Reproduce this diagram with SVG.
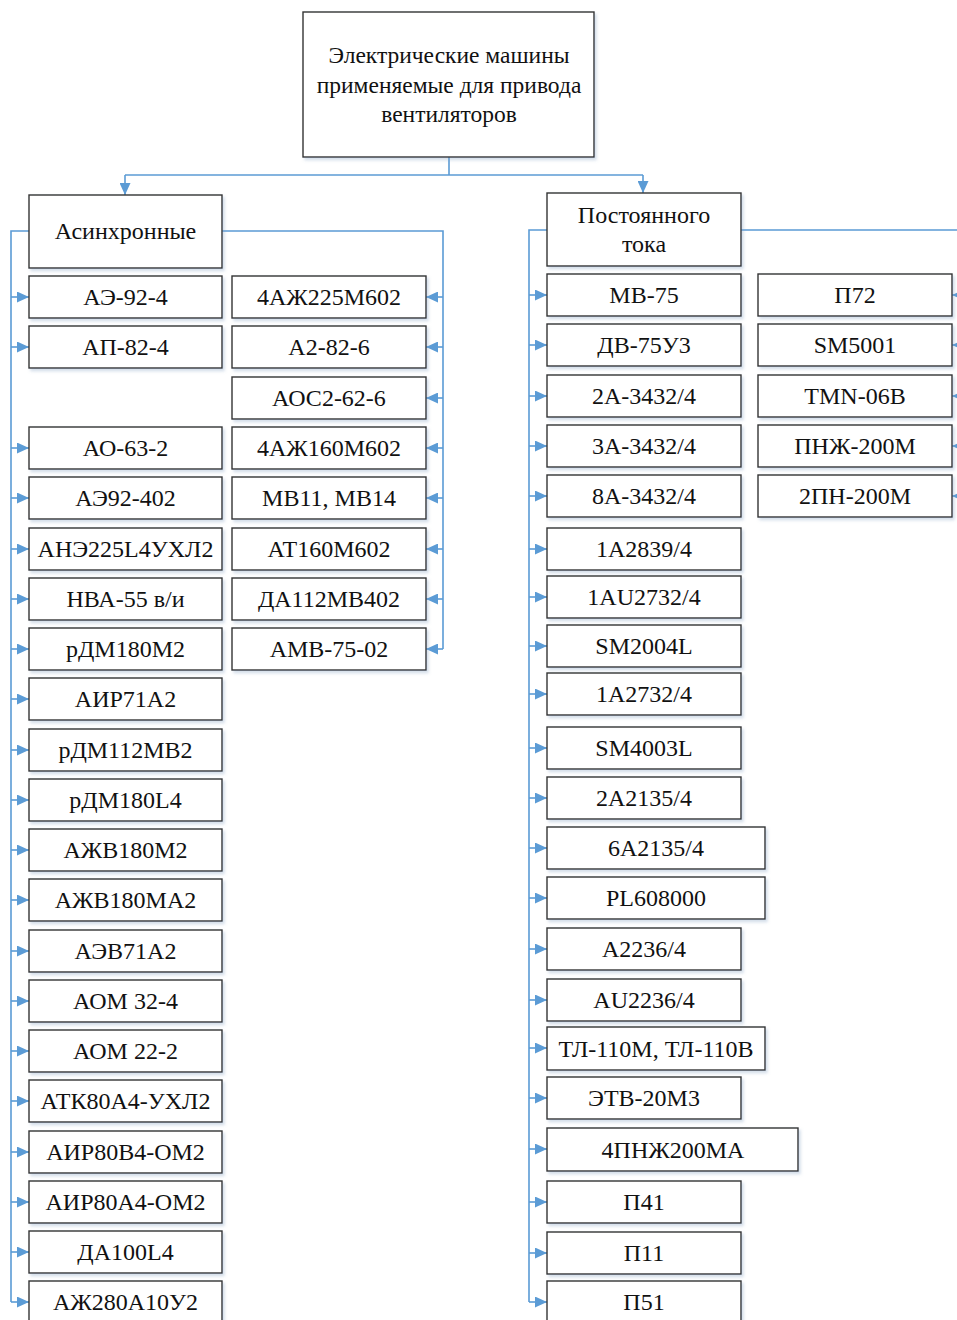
<svg xmlns="http://www.w3.org/2000/svg" width="957" height="1320" viewBox="0 0 957 1320">
<defs>
<style>
.b{fill:#fff;stroke:#333;stroke-width:1.4;filter:url(#sh)}
.t{font-family:"Liberation Serif","Times New Roman",serif;font-size:24px;fill:#111;text-anchor:middle}
.c{fill:none;stroke:#5B9BD5;stroke-width:1.6}
</style>
<filter id="sh" x="-10%" y="-10%" width="120%" height="130%">
<feDropShadow dx="2" dy="2.5" stdDeviation="1.6" flood-color="#7f9cc0" flood-opacity="0.35"/>
</filter>
<marker id="ar" markerWidth="12" markerHeight="11" refX="12" refY="5.5" orient="auto" markerUnits="userSpaceOnUse">
<path d="M0,0 L12,5.5 L0,11 z" fill="#5B9BD5"/>
</marker>
</defs>
<rect width="957" height="1320" fill="#fff"/>

<g id="connectors">
<path class="c" d="M449,157 V175"/>
<path class="c" d="M125,175 H643"/>
<path class="c" d="M125,175 V195" marker-end="url(#ar)"/>
<path class="c" d="M643,175 V193" marker-end="url(#ar)"/>
<path class="c" d="M29,231 H11 V1302"/>
<path class="c" d="M11,297 H29" marker-end="url(#ar)"/>
<path class="c" d="M11,347 H29" marker-end="url(#ar)"/>
<path class="c" d="M11,448 H29" marker-end="url(#ar)"/>
<path class="c" d="M11,498 H29" marker-end="url(#ar)"/>
<path class="c" d="M11,549 H29" marker-end="url(#ar)"/>
<path class="c" d="M11,599 H29" marker-end="url(#ar)"/>
<path class="c" d="M11,649 H29" marker-end="url(#ar)"/>
<path class="c" d="M11,699 H29" marker-end="url(#ar)"/>
<path class="c" d="M11,750 H29" marker-end="url(#ar)"/>
<path class="c" d="M11,800 H29" marker-end="url(#ar)"/>
<path class="c" d="M11,850 H29" marker-end="url(#ar)"/>
<path class="c" d="M11,900 H29" marker-end="url(#ar)"/>
<path class="c" d="M11,951 H29" marker-end="url(#ar)"/>
<path class="c" d="M11,1001 H29" marker-end="url(#ar)"/>
<path class="c" d="M11,1051 H29" marker-end="url(#ar)"/>
<path class="c" d="M11,1101 H29" marker-end="url(#ar)"/>
<path class="c" d="M11,1152 H29" marker-end="url(#ar)"/>
<path class="c" d="M11,1202 H29" marker-end="url(#ar)"/>
<path class="c" d="M11,1252 H29" marker-end="url(#ar)"/>
<path class="c" d="M11,1302 H29" marker-end="url(#ar)"/>
<path class="c" d="M222,231 H443 V649"/>
<path class="c" d="M443,297 H426" marker-end="url(#ar)"/>
<path class="c" d="M443,347 H426" marker-end="url(#ar)"/>
<path class="c" d="M443,398 H426" marker-end="url(#ar)"/>
<path class="c" d="M443,448 H426" marker-end="url(#ar)"/>
<path class="c" d="M443,498 H426" marker-end="url(#ar)"/>
<path class="c" d="M443,549 H426" marker-end="url(#ar)"/>
<path class="c" d="M443,599 H426" marker-end="url(#ar)"/>
<path class="c" d="M443,649 H426" marker-end="url(#ar)"/>
<path class="c" d="M547,230 H529 V1302"/>
<path class="c" d="M529,295 H547" marker-end="url(#ar)"/>
<path class="c" d="M529,345 H547" marker-end="url(#ar)"/>
<path class="c" d="M529,396 H547" marker-end="url(#ar)"/>
<path class="c" d="M529,446 H547" marker-end="url(#ar)"/>
<path class="c" d="M529,496 H547" marker-end="url(#ar)"/>
<path class="c" d="M529,549 H547" marker-end="url(#ar)"/>
<path class="c" d="M529,597 H547" marker-end="url(#ar)"/>
<path class="c" d="M529,646 H547" marker-end="url(#ar)"/>
<path class="c" d="M529,694 H547" marker-end="url(#ar)"/>
<path class="c" d="M529,748 H547" marker-end="url(#ar)"/>
<path class="c" d="M529,798 H547" marker-end="url(#ar)"/>
<path class="c" d="M529,848 H547" marker-end="url(#ar)"/>
<path class="c" d="M529,898 H547" marker-end="url(#ar)"/>
<path class="c" d="M529,949 H547" marker-end="url(#ar)"/>
<path class="c" d="M529,1000 H547" marker-end="url(#ar)"/>
<path class="c" d="M529,1048 H547" marker-end="url(#ar)"/>
<path class="c" d="M529,1098 H547" marker-end="url(#ar)"/>
<path class="c" d="M529,1149 H547" marker-end="url(#ar)"/>
<path class="c" d="M529,1202 H547" marker-end="url(#ar)"/>
<path class="c" d="M529,1253 H547" marker-end="url(#ar)"/>
<path class="c" d="M529,1302 H547" marker-end="url(#ar)"/>
<path class="c" d="M741,230 H970 V496"/>
<path class="c" d="M970,295 H952" marker-end="url(#ar)"/>
<path class="c" d="M970,345 H952" marker-end="url(#ar)"/>
<path class="c" d="M970,396 H952" marker-end="url(#ar)"/>
<path class="c" d="M970,446 H952" marker-end="url(#ar)"/>
<path class="c" d="M970,496 H952" marker-end="url(#ar)"/>
</g>

<g id="root"><rect class="b" x="303" y="12" width="291" height="145"/>
<text class="t" style="font-size:23.5px" x="449" y="63">Электрические машины</text>
<text class="t" style="font-size:23.5px" x="449" y="93">применяемые для привода</text>
<text class="t" style="font-size:23.5px" x="449" y="122">вентиляторов</text></g>

<g id="async"><rect class="b" x="29" y="195" width="193" height="73"/><text class="t" x="125.5" y="239">Асинхронные</text></g>
<g id="dc"><rect class="b" x="547" y="193" width="194" height="73"/><text class="t" x="644" y="223">Постоянного</text><text class="t" x="644" y="252">тока</text></g>

<g id="a1"><rect class="b" x="29" y="276" width="193" height="42"/><text class="t" x="125.5" y="305">АЭ-92-4</text></g>
<g id="a2"><rect class="b" x="29" y="326" width="193" height="42"/><text class="t" x="125.5" y="355">АП-82-4</text></g>
<g id="a3"><rect class="b" x="29" y="427" width="193" height="42"/><text class="t" x="125.5" y="456">АО-63-2</text></g>
<g id="a4"><rect class="b" x="29" y="477" width="193" height="42"/><text class="t" x="125.5" y="506">АЭ92-402</text></g>
<g id="a5"><rect class="b" x="29" y="528" width="193" height="42"/><text class="t" x="125.5" y="557">АНЭ225L4УХЛ2</text></g>
<g id="a6"><rect class="b" x="29" y="578" width="193" height="42"/><text class="t" x="125.5" y="607">НВА-55 в/и</text></g>
<g id="a7"><rect class="b" x="29" y="628" width="193" height="42"/><text class="t" x="125.5" y="657">рДМ180М2</text></g>
<g id="a8"><rect class="b" x="29" y="678" width="193" height="42"/><text class="t" x="125.5" y="707">АИР71А2</text></g>
<g id="a9"><rect class="b" x="29" y="729" width="193" height="42"/><text class="t" x="125.5" y="758">рДМ112МВ2</text></g>
<g id="a10"><rect class="b" x="29" y="779" width="193" height="42"/><text class="t" x="125.5" y="808">рДМ180L4</text></g>
<g id="a11"><rect class="b" x="29" y="829" width="193" height="42"/><text class="t" x="125.5" y="858">АЖВ180М2</text></g>
<g id="a12"><rect class="b" x="29" y="879" width="193" height="42"/><text class="t" x="125.5" y="908">АЖВ180МА2</text></g>
<g id="a13"><rect class="b" x="29" y="930" width="193" height="42"/><text class="t" x="125.5" y="959">АЭВ71А2</text></g>
<g id="a14"><rect class="b" x="29" y="980" width="193" height="42"/><text class="t" x="125.5" y="1009">АОМ 32-4</text></g>
<g id="a15"><rect class="b" x="29" y="1030" width="193" height="42"/><text class="t" x="125.5" y="1059">АОМ 22-2</text></g>
<g id="a16"><rect class="b" x="29" y="1080" width="193" height="42"/><text class="t" x="125.5" y="1109">АТК80А4-УХЛ2</text></g>
<g id="a17"><rect class="b" x="29" y="1131" width="193" height="42"/><text class="t" x="125.5" y="1160">АИР80В4-ОМ2</text></g>
<g id="a18"><rect class="b" x="29" y="1181" width="193" height="42"/><text class="t" x="125.5" y="1210">АИР80А4-ОМ2</text></g>
<g id="a19"><rect class="b" x="29" y="1231" width="193" height="42"/><text class="t" x="125.5" y="1260">ДА100L4</text></g>
<g id="a20"><rect class="b" x="29" y="1281" width="193" height="42"/><text class="t" x="125.5" y="1310">АЖ280А10У2</text></g>

<g id="b1"><rect class="b" x="232" y="276" width="194" height="42"/><text class="t" x="329" y="305">4АЖ225М602</text></g>
<g id="b2"><rect class="b" x="232" y="326" width="194" height="42"/><text class="t" x="329" y="355">А2-82-6</text></g>
<g id="b3"><rect class="b" x="232" y="377" width="194" height="42"/><text class="t" x="329" y="406">АОС2-62-6</text></g>
<g id="b4"><rect class="b" x="232" y="427" width="194" height="42"/><text class="t" x="329" y="456">4АЖ160М602</text></g>
<g id="b5"><rect class="b" x="232" y="477" width="194" height="42"/><text class="t" x="329" y="506">МВ11, МВ14</text></g>
<g id="b6"><rect class="b" x="232" y="528" width="194" height="42"/><text class="t" x="329" y="557">АТ160М602</text></g>
<g id="b7"><rect class="b" x="232" y="578" width="194" height="42"/><text class="t" x="329" y="607">ДА112МВ402</text></g>
<g id="b8"><rect class="b" x="232" y="628" width="194" height="42"/><text class="t" x="329" y="657">АМВ-75-02</text></g>

<g id="d1"><rect class="b" x="547" y="274" width="194" height="42"/><text class="t" x="644" y="303">МВ-75</text></g>
<g id="d2"><rect class="b" x="547" y="324" width="194" height="42"/><text class="t" x="644" y="353">ДВ-75У3</text></g>
<g id="d3"><rect class="b" x="547" y="375" width="194" height="42"/><text class="t" x="644" y="404">2А-3432/4</text></g>
<g id="d4"><rect class="b" x="547" y="425" width="194" height="42"/><text class="t" x="644" y="454">3А-3432/4</text></g>
<g id="d5"><rect class="b" x="547" y="475" width="194" height="42"/><text class="t" x="644" y="504">8А-3432/4</text></g>
<g id="d6"><rect class="b" x="547" y="528" width="194" height="42"/><text class="t" x="644" y="557">1А2839/4</text></g>
<g id="d7"><rect class="b" x="547" y="576" width="194" height="42"/><text class="t" x="644" y="605">1AU2732/4</text></g>
<g id="d8"><rect class="b" x="547" y="625" width="194" height="42"/><text class="t" x="644" y="654">SM2004L</text></g>
<g id="d9"><rect class="b" x="547" y="673" width="194" height="42"/><text class="t" x="644" y="702">1А2732/4</text></g>
<g id="d10"><rect class="b" x="547" y="727" width="194" height="42"/><text class="t" x="644" y="756">SM4003L</text></g>
<g id="d11"><rect class="b" x="547" y="777" width="194" height="42"/><text class="t" x="644" y="806">2А2135/4</text></g>
<g id="d12"><rect class="b" x="547" y="827" width="218" height="42"/><text class="t" x="656" y="856">6А2135/4</text></g>
<g id="d13"><rect class="b" x="547" y="877" width="218" height="42"/><text class="t" x="656" y="906">PL608000</text></g>
<g id="d14"><rect class="b" x="547" y="928" width="194" height="42"/><text class="t" x="644" y="957">А2236/4</text></g>
<g id="d15"><rect class="b" x="547" y="979" width="194" height="42"/><text class="t" x="644" y="1008">AU2236/4</text></g>
<g id="d16"><rect class="b" x="547" y="1027" width="218" height="43"/><text class="t" x="656" y="1057">ТЛ-110М, ТЛ-110В</text></g>
<g id="d17"><rect class="b" x="547" y="1077" width="194" height="42"/><text class="t" x="644" y="1106">ЭТВ-20М3</text></g>
<g id="d18"><rect class="b" x="547" y="1128" width="251" height="43"/><text class="t" x="673" y="1158">4ПНЖ200МА</text></g>
<g id="d19"><rect class="b" x="547" y="1181" width="194" height="42"/><text class="t" x="644" y="1210">П41</text></g>
<g id="d20"><rect class="b" x="547" y="1232" width="194" height="42"/><text class="t" x="644" y="1261">П11</text></g>
<g id="d21"><rect class="b" x="547" y="1281" width="194" height="42"/><text class="t" x="644" y="1310">П51</text></g>

<g id="e1"><rect class="b" x="758" y="274" width="194" height="42"/><text class="t" x="855" y="303">П72</text></g>
<g id="e2"><rect class="b" x="758" y="324" width="194" height="42"/><text class="t" x="855" y="353">SM5001</text></g>
<g id="e3"><rect class="b" x="758" y="375" width="194" height="42"/><text class="t" x="855" y="404">TMN-06B</text></g>
<g id="e4"><rect class="b" x="758" y="425" width="194" height="42"/><text class="t" x="855" y="454">ПНЖ-200М</text></g>
<g id="e5"><rect class="b" x="758" y="475" width="194" height="42"/><text class="t" x="855" y="504">2ПН-200М</text></g>
</svg>
